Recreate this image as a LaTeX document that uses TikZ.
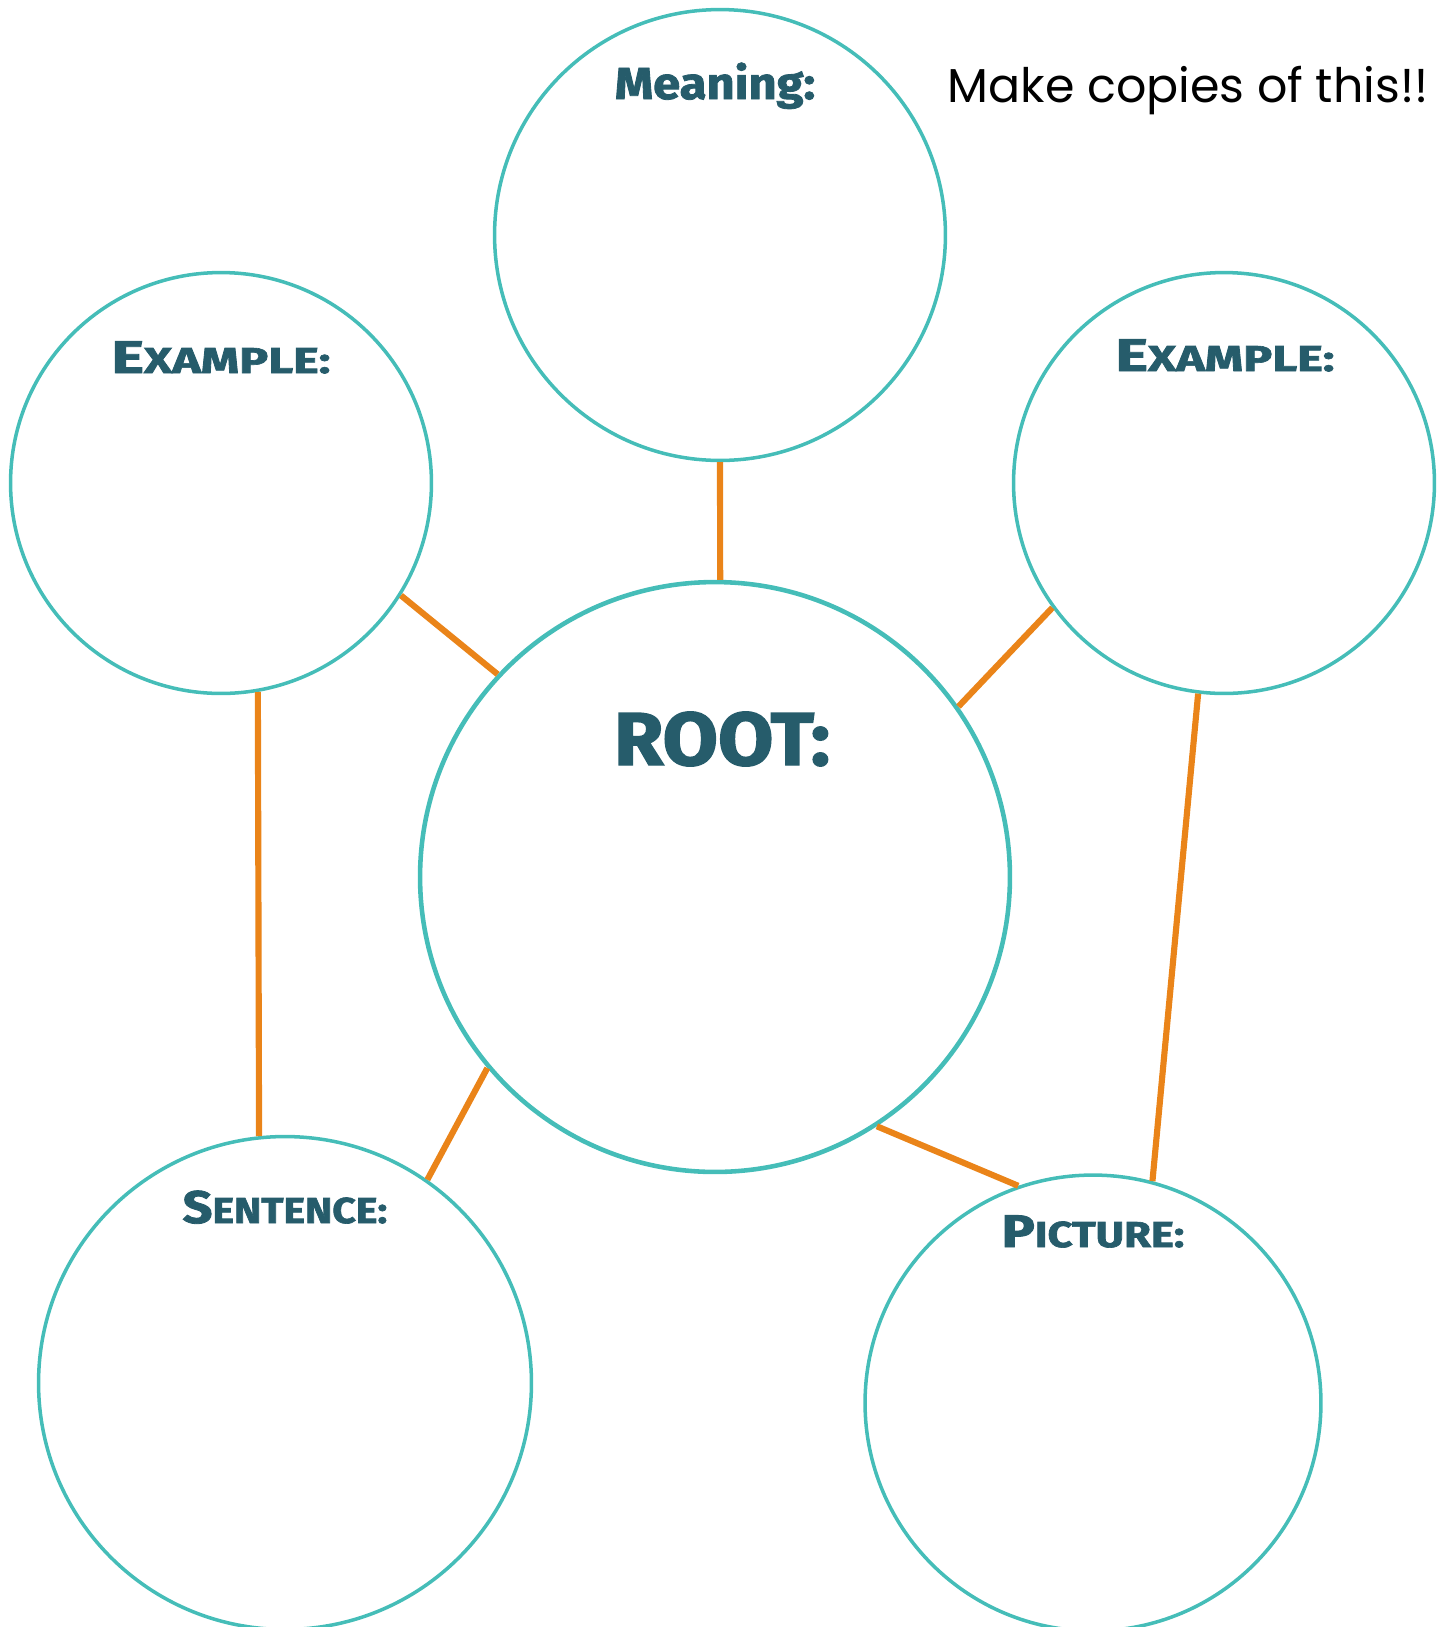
\documentclass[tikz,border=0pt]{standalone}
\usepackage{fontspec}
\usepackage{graphicx}
\setmainfont{Poppins}
\newfontfamily\labfont[BoldFeatures={FakeBold=1.8}]{Fira Sans}
\definecolor{ring}{HTML}{45BDB8}
\definecolor{link}{HTML}{EA8419}
\definecolor{labc}{HTML}{265C6B}
\newcommand\bigsc[2]{{\fontsize{26}{26}\selectfont #1}{\fontsize{20.5}{20.5}\selectfont #2}}
\begin{document}
\begin{tikzpicture}[x=0.02cm,y=-0.02cm,
  ring/.style={circle,draw=ring,line width=2pt,inner sep=0pt},
  conn/.style={draw=link,line width=3.5pt},
  lab/.style={anchor=base,text=labc,font=\labfont\bfseries,inner sep=0pt}]
\useasboundingbox (0,0) rectangle (1448,1627);
\node[ring,minimum size=9.02cm] (mean) at (720,235) {};
\node[ring,minimum size=8.42cm] (exl) at (221,483) {};
\node[ring,minimum size=8.42cm] (exr) at (1224,483) {};
\node[ring,minimum size=11.8cm,line width=2.6pt] (root) at (715,877) {};
\node[ring,minimum size=9.86cm] (sent) at (285,1383) {};
\node[ring,minimum size=9.12cm] (pic) at (1093,1403) {};
\node[lab] (tmean) at (715,99) {\scalebox{1.09}[1]{\fontsize{25.5}{25.5}\selectfont Meaning:}};
\node[lab] (texl) at (221,373) {\scalebox{1.35}[1]{\bigsc{E}{XAMPLE:}}};
\node[lab] (texr) at (1225,371) {\scalebox{1.35}[1]{\bigsc{E}{XAMPLE:}}};
\node[lab] (troot) at (722,765) {\scalebox{1.07}[1]{\fontsize{42.7}{42.7}\selectfont ROOT:}};
\node[lab] (tsent) at (285,1223) {\scalebox{1.14}[1]{\bigsc{S}{ENTENCE:}}};
\node[lab] (tpic) at (1093,1247) {\scalebox{1.21}[1]{\bigsc{P}{ICTURE:}}};
\node[anchor=base,inner sep=0pt] (note) at (1188,102) {\resizebox{9.62cm}{!}{\fontsize{30}{30}\selectfont Make copies of this!!}};
\draw[conn] (mean.south) -- (root.89);
\draw[conn] (exl.-32) -- (root.137);
\draw[conn] (exr.216) -- (root.35);
\draw[conn] (exl.-80) -- (sent.96);
\draw[conn] (exr.-97) -- (pic.75);
\draw[conn] (root.220) -- (sent.55);
\draw[conn] (root.-57) -- (pic.109);
\end{tikzpicture}
\end{document}
